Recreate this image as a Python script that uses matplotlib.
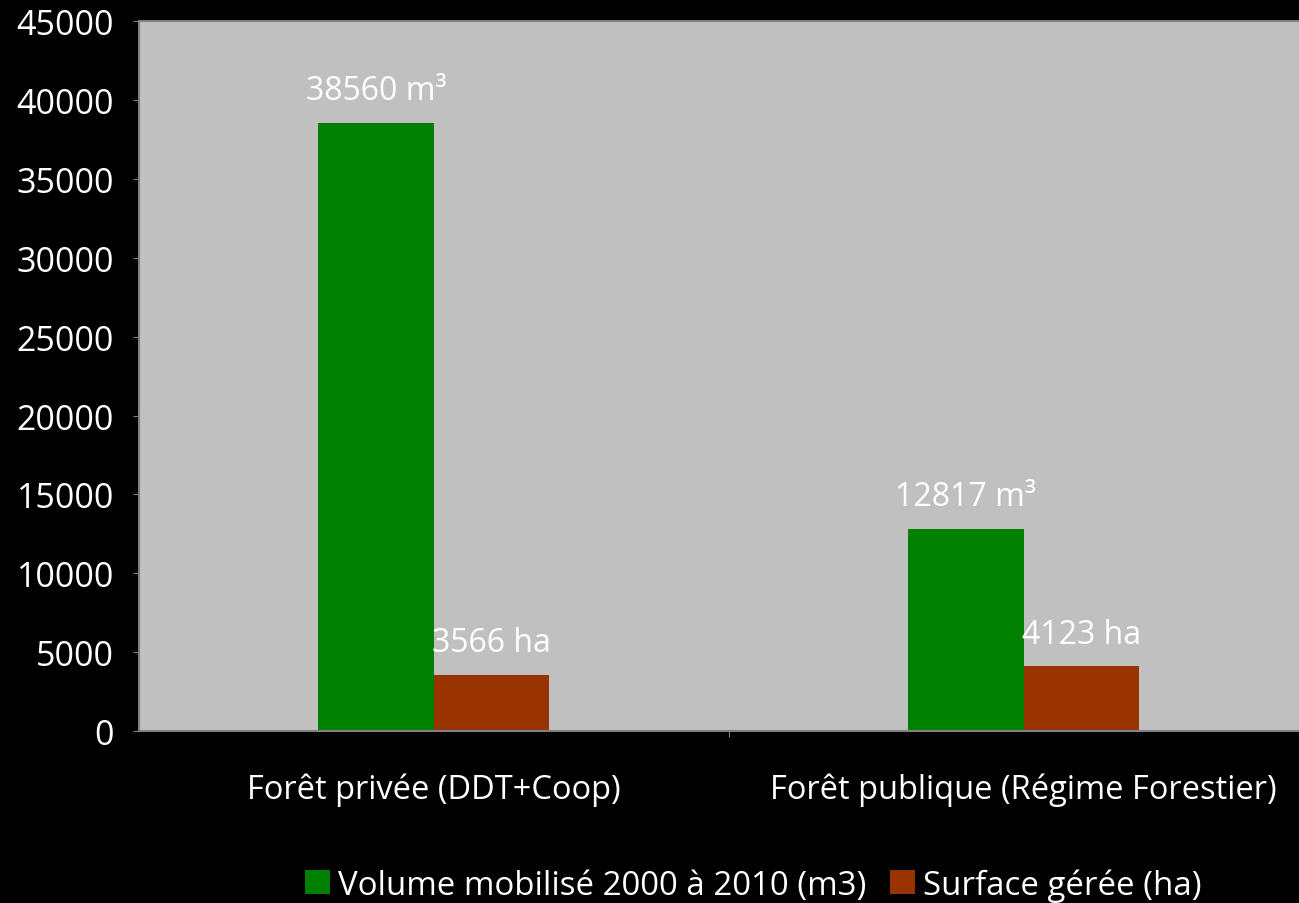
import matplotlib
matplotlib.use("Agg")
import matplotlib.pyplot as plt
import numpy as np

categories = ["Forêt privée (DDT+Coop)", "Forêt publique (Régime Forestier)"]
series_names = ["Volume mobilisé 2000 à 2010 (m3)", "Surface gérée (ha)"]
volume = [38560, 12817]
surface = [3566, 4123]
volume_labels = ["38560 m³", "12817 m³"]
surface_labels = ["3566 ha", "4123 ha"]
yticks = [0, 5000, 10000, 15000, 20000, 25000, 30000, 35000, 40000, 45000]

plt.rcParams['font.family'] = ['Open Sans', 'DejaVu Sans']

fig = plt.figure(figsize=(12.99, 9.04), dpi=100, facecolor='black')
ax = fig.add_axes([0.107, 0.190, 0.908, 0.7857])
ax.set_facecolor('#C0C0C0')

x = np.arange(len(categories))
w = 0.196
green = '#008000'
brown = '#993300'
b1 = ax.bar(x - w/2, volume, w, color=green, label=series_names[0])
b2 = ax.bar(x + w/2, surface, w, color=brown, label=series_names[1])

fs = 23.5
for xi, v, lab in zip(x - w/2, volume, volume_labels):
    ax.annotate(lab, (xi, v), xytext=(0, 17), textcoords='offset points',
                ha='center', va='baseline', color='white', fontsize=23)
for xi, v, lab in zip(x + w/2, surface, surface_labels):
    ax.annotate(lab, (xi, v), xytext=(0, 17), textcoords='offset points',
                ha='center', va='baseline', color='white', fontsize=23)

ax.set_xlim(-0.5, 1.5)
ax.set_ylim(0, 45000)
ax.set_yticks(yticks)
ax.set_yticklabels([str(t) for t in yticks], color='white', fontsize=24.5)
ax.tick_params(axis='y', colors='#808080', length=4, labelcolor='white', pad=14)
ax.set_xticks([0.5])
ax.set_xticklabels([''])
ax.tick_params(axis='x', colors='#808080', length=4)
for xi, c in zip(x, categories):
    ax.text(xi, -0.082, c, transform=ax.get_xaxis_transform(), ha='center', va='center',
            color='white', fontsize=fs)

for s in ax.spines.values():
    s.set_color('#808080')
    s.set_linewidth(1.5)

leg = fig.legend(handles=[b1, b2], labels=series_names, loc='center', bbox_to_anchor=(0.58, 0.02),
                 ncol=2, frameon=False, fontsize=23.8, handlelength=0.75, handleheight=0.75,
                 handletextpad=0.25, columnspacing=0.7)
for t in leg.get_texts():
    t.set_color('white')

fig.savefig('out.png', dpi=100, facecolor='black')
